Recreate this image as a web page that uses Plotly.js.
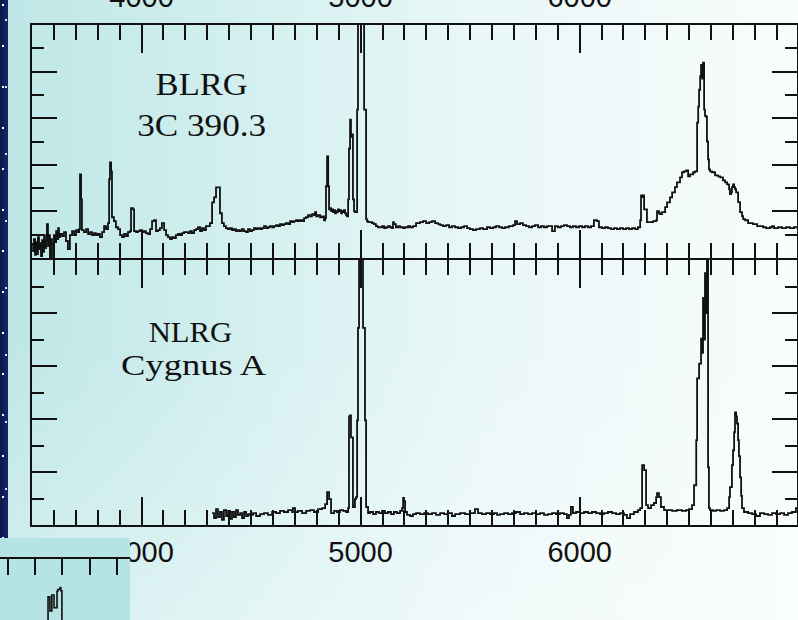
<!DOCTYPE html>
<html><head><meta charset="utf-8">
<script src="https://cdn.plot.ly/plotly-3.0.1.min.js"></script>
<style>
html,body{margin:0;padding:0;width:798px;height:620px;overflow:hidden;}
body{position:relative;
 background:
  linear-gradient(to bottom, rgba(255,255,255,0) 55%, rgba(255,255,255,0.35) 100%),
  linear-gradient(to right, #bee6e6 0%, #d3efef 30%, #e9f7f7 60%, #f8fcfc 100%);}
#strip{position:absolute;left:0;top:0;width:8px;height:538px;
 background:
  radial-gradient(circle at 3px 5px, #ffffff 0.9px, rgba(255,255,255,0) 1.6px) 0 0/8px 41px,
  radial-gradient(circle at 6px 20px, #dfe8ff 0.7px, rgba(255,255,255,0) 1.4px) 0 0/8px 67px,
  linear-gradient(to right, #0b1848, #16286a);}
#chart{position:absolute;left:0;top:0;width:798px;height:620px;}
#inset{position:absolute;left:0;top:538px;width:130px;height:82px;}
#chart .annotation-text{transform-box:fill-box;transform-origin:center;}
#chart g.annotation[data-index="0"] .annotation-text{transform:scaleX(1.08);}
#chart g.annotation[data-index="1"] .annotation-text{transform:scaleX(1.10);}
#chart g.annotation[data-index="2"] .annotation-text{transform:scaleX(1.06);}
#chart g.annotation[data-index="3"] .annotation-text{transform:scaleX(1.26);}
</style></head>
<body>
<div id="strip"></div>
<div id="chart"></div>
<div id="inset"></div>
<script>
// ---- data: wavelength (Angstrom), relative flux ----
const blrgSpectrum = [
[3500,0.60],[3505,0.30],[3509,0.81],[3514,0.13],[3518,0.68],[3523,0.17],[3527,0.90],[3532,0.38],[3537,0.64],[3541,0.08],
[3546,0.77],[3550,0.26],[3555,0.98],[3559,0.43],[3564,0.73],[3568,1.45],[3573,0.51],[3578,0.98],[3582,0.04],[3587,0.81],
[3591,0.60],[3596,0.04],[3600,0.98],[3605,0.68],[3610,1.15],[3614,0.81],[3619,1.28],[3623,0.90],[3628,1.03],[3637,0.94],
[3646,1.11],[3655,0.73],[3664,0.38],[3673,0.98],[3683,1.15],[3692,0.98],[3701,1.20],[3710,1.11],[3715,1.24],[3719,3.59],
[3724,2.52],[3728,1.20],[3737,1.11],[3747,1.24],[3756,1.03],[3765,1.11],[3774,0.98],[3783,1.07],[3792,0.98],[3801,1.03],
[3810,0.90],[3820,1.11],[3829,1.37],[3838,1.24],[3847,1.50],[3852,3.38],[3856,4.10],[3861,3.72],[3865,1.75],[3874,1.58],
[3883,1.32],[3893,1.24],[3902,0.98],[3911,0.90],[3920,1.03],[3929,0.94],[3938,1.11],[3947,1.15],[3952,2.14],[3961,2.09],
[3966,1.15],[3975,1.11],[3984,1.15],[3993,1.20],[4002,1.11],[4011,1.15],[4020,1.07],[4030,1.03],[4039,1.24],[4048,1.58],
[4057,1.62],[4066,1.15],[4075,1.20],[4084,1.28],[4093,1.50],[4103,1.20],[4112,0.98],[4121,0.90],[4130,0.81],[4139,0.90],
[4148,0.85],[4157,0.98],[4167,1.03],[4176,0.98],[4185,1.07],[4194,1.11],[4203,1.11],[4212,1.07],[4221,1.15],[4230,1.07],
[4240,1.20],[4249,1.24],[4258,1.32],[4267,1.15],[4276,1.28],[4285,1.20],[4294,1.37],[4303,1.37],[4312,1.50],[4322,2.39],
[4331,2.60],[4340,3.03],[4349,3.03],[4358,1.92],[4367,1.50],[4376,1.37],[4385,1.28],[4394,1.24],[4404,1.28],[4413,1.20],
[4422,1.24],[4431,1.15],[4440,1.20],[4449,1.15],[4458,1.24],[4467,1.15],[4477,1.11],[4486,1.24],[4495,1.15],[4504,1.20],
[4513,1.28],[4522,1.24],[4531,1.28],[4541,1.24],[4550,1.28],[4559,1.37],[4568,1.28],[4577,1.32],[4586,1.37],[4596,1.32],
[4605,1.37],[4614,1.41],[4623,1.37],[4632,1.45],[4641,1.41],[4650,1.45],[4659,1.50],[4669,1.45],[4678,1.58],[4687,1.54],
[4696,1.58],[4705,1.62],[4714,1.58],[4723,1.62],[4733,1.58],[4742,1.71],[4751,1.75],[4760,1.84],[4769,1.79],[4778,1.88],
[4787,1.84],[4792,1.97],[4797,1.79],[4806,1.84],[4815,1.75],[4824,1.79],[4833,1.62],[4838,1.71],[4842,3.08],[4847,4.36],
[4852,3.08],[4856,2.09],[4860,2.14],[4865,2.01],[4870,2.09],[4874,1.97],[4879,2.05],[4883,1.92],[4888,2.01],[4892,1.97],
[4897,2.09],[4902,2.01],[4906,2.05],[4911,1.92],[4915,2.01],[4920,1.97],[4924,2.05],[4929,1.92],[4934,1.84],[4938,1.79],
[4943,2.52],[4947,4.70],[4952,5.94],[4956,5.20],[4961,5.30],[4965,2.52],[4970,2.01],[4974,1.97],[4979,1.97],[4984,6.37],
[4988,12],[4993,12],[4997,12],[5002,12],[5006,12],[5011,12],[5016,6.37],[5020,6.37],[5025,1.67],[5029,1.58],
[5034,1.54],[5043,1.54],[5052,1.50],[5061,1.45],[5070,1.37],[5079,1.32],[5089,1.32],[5098,1.37],[5107,1.28],[5116,1.32],
[5125,1.37],[5134,1.32],[5143,1.28],[5148,1.54],[5152,1.45],[5161,1.32],[5171,1.37],[5180,1.32],[5194,1.28],[5203,1.32],
[5217,1.37],[5226,1.32],[5239,1.37],[5253,1.50],[5271,1.54],[5285,1.58],[5299,1.50],[5313,1.54],[5326,1.58],[5340,1.50],
[5354,1.45],[5363,1.41],[5376,1.37],[5390,1.41],[5404,1.32],[5417,1.37],[5431,1.32],[5445,1.28],[5458,1.32],[5472,1.37],
[5486,1.28],[5499,1.24],[5513,1.20],[5527,1.24],[5545,1.28],[5559,1.24],[5577,1.32],[5591,1.28],[5605,1.32],[5618,1.37],
[5632,1.32],[5646,1.28],[5659,1.32],[5677,1.37],[5696,1.41],[5705,1.58],[5714,1.45],[5728,1.50],[5741,1.41],[5755,1.37],
[5769,1.32],[5783,1.37],[5796,1.41],[5810,1.32],[5824,1.37],[5837,1.32],[5851,1.37],[5865,1.37],[5874,1.15],[5887,1.37],
[5901,1.32],[5915,1.37],[5928,1.41],[5942,1.37],[5956,1.32],[5969,1.37],[5983,1.32],[5997,1.37],[6011,1.32],[6024,1.37],
[6038,1.32],[6052,1.37],[6065,1.62],[6079,1.58],[6088,1.32],[6102,1.28],[6116,1.32],[6129,1.28],[6143,1.24],[6157,1.28],
[6170,1.24],[6184,1.28],[6198,1.24],[6212,1.28],[6225,1.24],[6239,1.28],[6253,1.24],[6266,1.32],[6276,1.62],[6280,2.69],
[6285,2.61],[6289,2.69],[6294,2.09],[6298,2.09],[6307,1.54],[6321,1.54],[6335,1.58],[6349,1.62],[6353,2.01],[6362,1.92],
[6367,1.88],[6376,1.97],[6390,2.18],[6399,2.39],[6412,2.60],[6422,2.82],[6435,3.04],[6444,3.25],[6458,3.46],[6467,3.68],
[6476,3.72],[6486,3.76],[6495,3.50],[6504,3.59],[6518,3.68],[6527,3.72],[6536,5.81],[6541,6.50],[6545,7.22],[6550,7.80],
[6554,8.29],[6559,7.70],[6563,8.38],[6568,6.37],[6572,6.10],[6577,6.07],[6581,5.00],[6586,4.23],[6590,3.80],[6595,3.72],
[6604,3.68],[6618,3.55],[6632,3.50],[6641,3.46],[6654,3.33],[6664,3.25],[6673,3.16],[6682,2.95],[6686,2.74],[6691,2.82],
[6695,3.04],[6700,3.16],[6705,3.04],[6709,2.95],[6714,2.82],[6718,2.82],[6723,2.40],[6732,1.97],[6741,1.80],[6746,1.67],
[6755,1.62],[6769,1.50],[6791,1.45],[6810,1.37],[6837,1.32],[6851,1.28],[6869,1.32],[6878,1.37],[6887,1.28],[6906,1.32],
[6924,1.28],[6942,1.32],[6960,1.28],[6978,1.32],[6992,1.32]
];

const nlrgSpectrum = [
[4322,0.45],[4331,0.26],[4340,0.60],[4349,0.30],[4358,0.49],[4367,0.19],[4376,0.56],[4386,0.34],[4395,0.53],[4404,0.23],
[4413,0.49],[4422,0.30],[4431,0.56],[4440,0.38],[4450,0.45],[4459,0.26],[4468,0.49],[4477,0.34],[4486,0.41],[4495,0.38],
[4509,0.45],[4523,0.34],[4541,0.41],[4559,0.45],[4577,0.38],[4596,0.49],[4614,0.45],[4632,0.53],[4650,0.49],[4669,0.56],
[4687,0.49],[4691,0.64],[4701,0.49],[4714,0.53],[4733,0.45],[4751,0.53],[4769,0.56],[4787,0.49],[4806,0.60],[4824,0.64],
[4838,0.79],[4847,1.24],[4856,0.98],[4865,0.45],[4879,0.53],[4892,0.49],[4906,0.56],[4920,0.53],[4934,0.49],[4943,0.64],
[4947,4.10],[4952,4.14],[4956,3.31],[4961,3.31],[4965,0.68],[4974,0.98],[4979,1.05],[4984,3.95],[4988,7.44],[4993,12],
[4997,12],[5002,12],[5006,12],[5011,7.44],[5016,7.44],[5020,3.95],[5025,0.68],[5034,0.45],[5043,0.49],[5057,0.41],
[5070,0.49],[5084,0.45],[5098,0.53],[5111,0.45],[5125,0.49],[5139,0.41],[5152,0.49],[5166,0.45],[5180,0.53],[5189,0.64],
[5194,1.02],[5198,0.90],[5203,0.49],[5212,0.38],[5226,0.34],[5239,0.41],[5253,0.45],[5271,0.41],[5290,0.45],[5308,0.41],
[5326,0.45],[5344,0.38],[5363,0.45],[5381,0.41],[5399,0.45],[5417,0.34],[5431,0.41],[5454,0.45],[5477,0.41],[5499,0.45],
[5522,0.60],[5536,0.45],[5554,0.41],[5573,0.45],[5591,0.41],[5609,0.45],[5623,0.38],[5636,0.41],[5655,0.45],[5673,0.41],
[5691,0.45],[5709,0.49],[5728,0.41],[5746,0.45],[5764,0.41],[5783,0.45],[5801,0.41],[5819,0.45],[5837,0.38],[5856,0.41],
[5874,0.45],[5892,0.41],[5910,0.45],[5928,0.41],[5942,0.26],[5951,0.38],[5960,0.68],[5969,0.45],[5983,0.49],[6002,0.45],
[6020,0.49],[6038,0.45],[6056,0.49],[6075,0.45],[6093,0.41],[6111,0.45],[6129,0.49],[6148,0.45],[6166,0.41],[6184,0.45],
[6202,0.38],[6216,0.26],[6230,0.41],[6248,0.49],[6266,0.56],[6276,0.64],[6285,2.26],[6294,2.07],[6303,0.75],[6312,0.64],
[6326,0.75],[6339,0.83],[6349,1.05],[6353,1.20],[6362,1.05],[6371,0.68],[6385,0.56],[6399,0.56],[6422,0.53],[6444,0.56],
[6467,0.53],[6486,0.56],[6499,0.60],[6513,0.75],[6522,1.50],[6532,3.20],[6536,5.53],[6545,6.09],[6554,7.03],[6559,6.50],
[6563,8.57],[6568,7.00],[6572,9.50],[6577,8.00],[6581,12],[6586,2.18],[6590,0.64],[6595,0.56],[6609,0.53],[6623,0.56],
[6641,0.53],[6659,0.56],[6673,0.64],[6682,1.05],[6686,1.43],[6695,2.26],[6700,2.82],[6705,3.50],[6709,4.25],[6714,4.10],
[6718,3.83],[6723,3.20],[6727,2.60],[6732,1.80],[6737,1.10],[6741,0.64],[6750,0.49],[6769,0.45],[6787,0.41],[6805,0.34],
[6823,0.45],[6842,0.41],[6860,0.38],[6878,0.45],[6896,0.41],[6915,0.45],[6933,0.38],[6951,0.45],[6969,0.49],[6987,0.64],
[6992,0.64]
];

// fragment of a neighbouring slide panel (bottom-left corner)
const insetX = [1.40, 1.47, 1.54, 1.61, 1.69, 1.80, 1.83, 1.91, 1.94, 1.98, 2.10];
const insetY = [-1, 3.8, 1.5, 4.1, 2.0, 4.7, 5.0, 5.3, 4.8, -1, -1];

const panelLabels = [["BLRG", "3C 390.3"], ["NLRG", "Cygnus A"]];
const wavelengthRange = [3500, 6992];

// ---- layout helpers (pixel -> paper) ----
const W = 798, H = 620;
const fx = p => p / W, fy = p => 1 - p / H;
const INK = '#111111';

function xAxis(anchor, side) {
  return {
    anchor: anchor, side: side, domain: [fx(32), fx(797)], range: wavelengthRange,
    tickmode: 'linear', tick0: 4000, dtick: 1000,
    ticks: 'inside', ticklen: 28, tickwidth: 2, tickcolor: INK,
    minor: {tickmode: 'linear', tick0: 3500, dtick: 100, ticks: 'inside', ticklen: 15, tickwidth: 2, tickcolor: INK, showgrid: false},
    showline: true, linewidth: 2, linecolor: INK, mirror: 'allticks',
    showgrid: false, zeroline: false,
    tickfont: {family: 'Liberation Sans, Arial, sans-serif', size: 29, color: INK},
    ticklabelstandoff: side === 'top' ? 4 : 0
  };
}
function yAxis(anchor, top, bottom) {
  return {
    anchor: anchor, domain: [fy(bottom), fy(top)], range: [0, 10],
    tickmode: 'linear', tick0: 0, dtick: 2,
    ticks: 'inside', ticklen: 25, tickwidth: 2, tickcolor: INK,
    minor: {tickmode: 'linear', tick0: 0, dtick: 1, ticks: 'inside', ticklen: 12, tickwidth: 2, tickcolor: INK, showgrid: false},
    showline: true, linewidth: 2, linecolor: INK, mirror: 'allticks',
    showgrid: false, zeroline: false, showticklabels: false
  };
}

const lineStyle = {color: INK, width: 1.8, shape: 'hv'};
const traces = [
  {x: blrgSpectrum.map(p => p[0]), y: blrgSpectrum.map(p => p[1]), xaxis: 'x', yaxis: 'y',
   type: 'scatter', mode: 'lines', line: lineStyle, hoverinfo: 'skip'},
  {x: nlrgSpectrum.map(p => p[0]), y: nlrgSpectrum.map(p => p[1]), xaxis: 'x2', yaxis: 'y2',
   type: 'scatter', mode: 'lines', line: lineStyle, hoverinfo: 'skip'}
];

function label(text, x, y, size) {
  return {text: text, x: fx(x), y: fy(y), xref: 'paper', yref: 'paper', showarrow: false,
          xanchor: 'center', yanchor: 'middle',
          font: {family: 'Liberation Serif, Times New Roman, serif', size: size, color: INK}};
}

const layout = {
  width: W, height: H, margin: {l: 0, r: 0, t: 0, b: 0},
  paper_bgcolor: 'rgba(0,0,0,0)', plot_bgcolor: 'rgba(0,0,0,0)',
  showlegend: false,
  xaxis: xAxis('y', 'top'),
  yaxis: yAxis('x', 25, 258),
  xaxis2: xAxis('y2', 'bottom'),
  yaxis2: yAxis('x2', 260, 525),
  annotations: [
    label(panelLabels[0][0], 201, 84, 32),
    label(panelLabels[0][1], 201, 125, 32),
    label(panelLabels[1][0], 190, 332, 29),
    label(panelLabels[1][1], 193, 365, 29)
  ]
};

Plotly.newPlot('chart', traces, layout, {staticPlot: true, displayModeBar: false});

const insetLayout = {
  width: 130, height: 82, margin: {l: 0, r: 0, t: 21, b: 0},
  paper_bgcolor: '#b6e3e3', plot_bgcolor: '#b6e3e3', showlegend: false,
  xaxis: {range: [-0.294, 4.48], side: 'top', tickmode: 'linear', tick0: 0, dtick: 1,
          ticks: 'inside', ticklen: 16, tickwidth: 2, tickcolor: INK,
          showline: true, linewidth: 2, linecolor: INK, showticklabels: false,
          showgrid: false, zeroline: false},
  yaxis: {range: [0, 10], visible: false}
};
Plotly.newPlot('inset', [{x: insetX, y: insetY, type: 'scatter', mode: 'lines',
  line: {color: INK, width: 1.6, shape: 'hv'}, hoverinfo: 'skip'}], insetLayout,
  {staticPlot: true, displayModeBar: false});
</script>
</body></html>
